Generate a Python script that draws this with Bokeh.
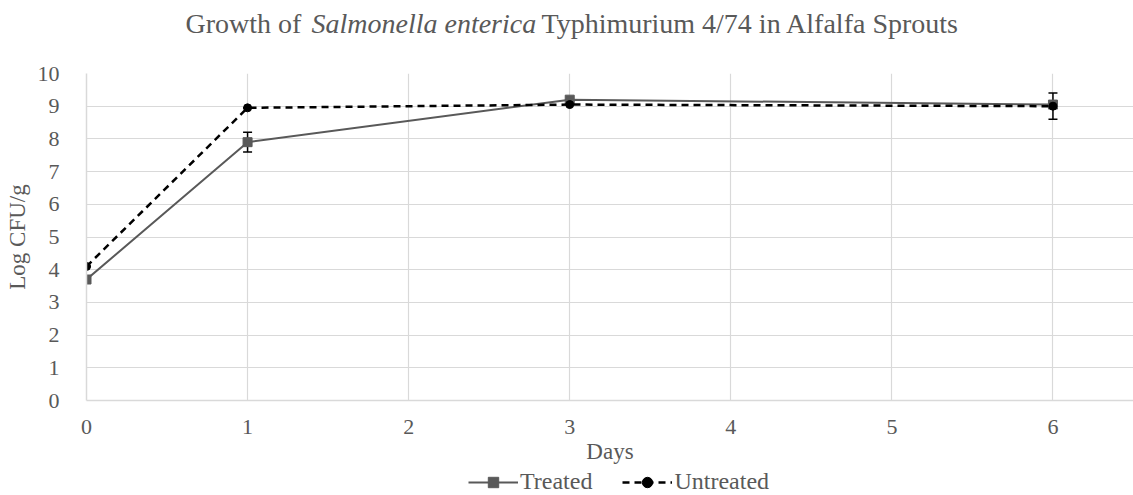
from bokeh.plotting import figure
from bokeh.layouts import column
from bokeh.core.properties import value
from bokeh.models import (Range1d, Legend, LegendItem, Whisker, TeeHead,
                          ColumnDataSource, FixedTicker)
from bokeh.embed import file_html
from bokeh.resources import INLINE

# ---- data ----
days = [0, 1, 3, 6]
treated = [3.7, 7.9, 9.2, 9.05]
treated_err = [0.0, 0.3, 0.0, 0.0]
untreated = [4.1, 8.95, 9.05, 9.0]
untreated_err = [0.0, 0.0, 0.0, 0.4]
x_ticks = [0, 1, 2, 3, 4, 5, 6]
y_ticks = list(range(0, 11))
title_parts = ["Growth of", "Salmonella enterica", "Typhimurium 4/74 in Alfalfa Sprouts"]
title_styles = ["normal", "italic", "normal"]
series_names = ["Treated", "Untreated"]

FONT = "Liberation Serif"
TXT = "#595959"
GRID = "#d9d9d9"
W = 1133
LEFT = 86
TITLE_H, MAIN_H, LEG_H = 55, 412, 28


def bare(h):
    f = figure(width=W, height=h, output_backend="svg", toolbar_location=None,
               x_range=Range1d(LEFT, W), y_range=Range1d(0, h),
               min_border_left=LEFT, min_border_right=0,
               min_border_top=0, min_border_bottom=0)
    f.axis.visible = False
    f.grid.visible = False
    f.outline_line_color = None
    return f


# ---- title figure ----
tf = bare(TITLE_H)
title_x = [185, 311, 541]
for txt, style, xpx in zip(title_parts, title_styles, title_x):
    tf.text(x=[xpx], y=[TITLE_H - 23], text=[txt],
            text_font=value(FONT), text_font_size="28px", text_font_style=style,
            text_color=TXT, text_align="left", text_baseline="alphabetic")

# ---- main figure ----
p = figure(width=W, height=MAIN_H, output_backend="svg", toolbar_location=None,
           x_range=Range1d(0, 6.5), y_range=Range1d(0, 10),
           min_border_left=LEFT, min_border_right=0, min_border_top=18, min_border_bottom=67)
p.outline_line_color = None

for ax in (p.xaxis[0], p.yaxis[0]):
    ax.major_tick_line_color = None
    ax.minor_tick_line_color = None
    ax.major_label_text_font = FONT
    ax.major_label_text_font_size = "22px"
    ax.major_label_text_color = TXT
    ax.axis_label_text_font = FONT
    ax.axis_label_text_font_size = "23px"
    ax.axis_label_text_font_style = "normal"
    ax.axis_label_text_color = TXT
    ax.axis_line_color = GRID
    ax.axis_line_width = 1.5

p.xaxis.ticker = FixedTicker(ticks=x_ticks)
p.yaxis.ticker = FixedTicker(ticks=y_ticks)
p.xaxis.axis_label = "Days"
p.yaxis.axis_label = "Log CFU/g"
p.xaxis.major_label_standoff = 13
p.xaxis.axis_label_standoff = 2
p.yaxis.major_label_standoff = 21
p.yaxis.axis_label_standoff = 5

p.xgrid.ticker = FixedTicker(ticks=x_ticks)
p.ygrid.ticker = FixedTicker(ticks=y_ticks)
p.grid.grid_line_color = GRID
p.grid.grid_line_width = 1.2

src_t = ColumnDataSource(dict(x=days, y=treated,
                              lo=[v - e for v, e in zip(treated, treated_err)],
                              hi=[v + e for v, e in zip(treated, treated_err)]))
src_u = ColumnDataSource(dict(x=days, y=untreated,
                              lo=[v - e for v, e in zip(untreated, untreated_err)],
                              hi=[v + e for v, e in zip(untreated, untreated_err)]))

T_LINE = dict(line_color=TXT, line_width=2)
T_MARK = dict(marker="square", size=9, fill_color=TXT, line_color=TXT)
U_LINE = dict(line_color="black", line_width=2.5, line_dash="7 5")
U_MARK = dict(marker="circle", size=8, fill_color="black", line_color="black")

p.line("x", "y", source=src_t, **T_LINE)
p.scatter("x", "y", source=src_t, **T_MARK)
p.line("x", "y", source=src_u, **U_LINE)
p.scatter("x", "y", source=src_u, **U_MARK)

for src in (src_t, src_u):
    p.add_layout(Whisker(source=src, base="x", lower="lo", upper="hi",
                         line_color="black", line_width=1.5,
                         lower_head=TeeHead(size=9, line_color="black", line_width=1.5),
                         upper_head=TeeHead(size=9, line_color="black", line_width=1.5)))

# ---- legend figure (proxy renderers placed outside the visible range) ----
lf = bare(LEG_H)
off = dict(x=[-1000, -999], y=[-1000, -1000])
r_lt = lf.line(x="x", y="y", source=ColumnDataSource(off), **T_LINE)
r_mt = lf.scatter(x="x", y="y", source=ColumnDataSource(off), **T_MARK)
r_lu = lf.line(x="x", y="y", source=ColumnDataSource(off), **U_LINE)
r_mu = lf.scatter(x="x", y="y", source=ColumnDataSource(off), **U_MARK)
legend = Legend(items=[LegendItem(label=series_names[0], renderers=[r_lt, r_mt]),
                       LegendItem(label=series_names[1], renderers=[r_lu, r_mu])],
                orientation="horizontal", location=(468 - LEFT, 0),
                label_text_font=FONT, label_text_font_size="24px",
                label_text_color=TXT, glyph_width=50, glyph_height=26,
                spacing=30, padding=0, margin=0, label_standoff=2,
                border_line_color=None, background_fill_alpha=0)
lf.add_layout(legend)

layout = column(tf, p, lf, spacing=0)
open("out.html", "w").write(file_html(layout, INLINE))
